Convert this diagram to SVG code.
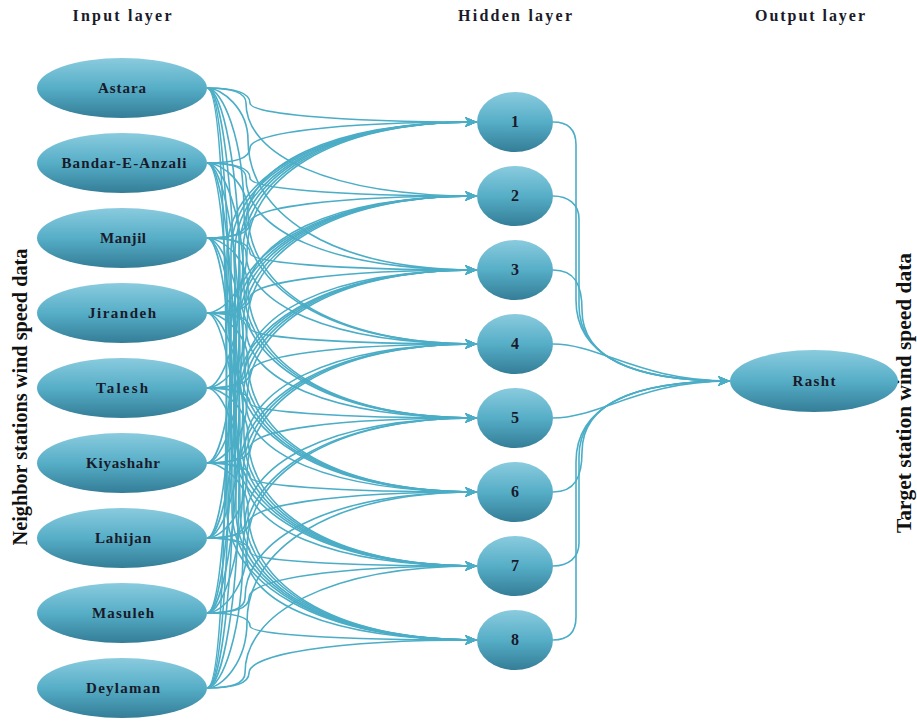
<svg xmlns="http://www.w3.org/2000/svg" width="917" height="721" viewBox="0 0 917 721">
<defs>
<linearGradient id="g" x1="0" y1="0" x2="0" y2="1">
<stop offset="0" stop-color="#8acbde"/>
<stop offset="0.5" stop-color="#56aec7"/>
<stop offset="1" stop-color="#347d97"/>
</linearGradient>
<marker id="ah" markerUnits="userSpaceOnUse" markerWidth="12" markerHeight="10" refX="12" refY="5" orient="auto">
<path d="M0,0 L12,5 L0,10 L3,5 Z" fill="#4badc6"/>
</marker>
<style>
.n{fill:url(#g);}
.t{font-family:"Liberation Serif","Times New Roman",serif;font-weight:bold;fill:#1a1a2a;text-anchor:middle;}
.nl{font-size:15px;}
.hl{font-size:16px;}
.tt{font-size:16px;}
.side{font-size:21px;fill:#111;}
#edges path{fill:none;stroke:#4badc6;stroke-width:1.6;marker-end:url(#ah);}
</style>
</defs>
<rect width="917" height="721" fill="#ffffff"/>
<text class="t tt" x="122" y="21" textLength="99" lengthAdjust="spacing">Input layer</text>
<text class="t tt" x="515" y="21" textLength="114" lengthAdjust="spacing">Hidden layer</text>
<text class="t tt" x="810" y="21" textLength="110" lengthAdjust="spacing">Output layer</text>
<text class="t side" transform="translate(27,397) rotate(-90)" textLength="297" lengthAdjust="spacingAndGlyphs">Neighbor stations wind speed data</text>
<text class="t side" transform="translate(911,393) rotate(-90)" textLength="280" lengthAdjust="spacingAndGlyphs">Target station wind speed data</text>
<g id="edges">
<path d="M207,88 q43,0 43,15 c0,10 79,19 227,19"/>
<path d="M207,88 q39,0 39,15 c0,51 81,93 231,93"/>
<path d="M207,88 C222,88 248,109 248,140 c0,72 80,130 229,130"/>
<path d="M207,88 C222,88 244,138 244,214 c0,72 82,130 233,130"/>
<path d="M207,88 C222,88 240,168 240,288 c0,72 83,130 237,130"/>
<path d="M207,88 C222,88 236,198 236,362 c0,72 84,130 241,130"/>
<path d="M207,88 C222,88 231,227 231,436 c0,72 86,130 246,130"/>
<path d="M207,88 C222,88 227,257 227,510 c0,72 88,130 250,130"/>
<path d="M207,163 q43,0 43,-15 c0,-14 79,-26 227,-26"/>
<path d="M207,163 q43,0 43,15 c0,10 79,18 227,18"/>
<path d="M207,163 q39,0 39,15 c0,51 81,92 231,92"/>
<path d="M207,163 C222,163 248,183 248,214 c0,72 80,130 229,130"/>
<path d="M207,163 C222,163 244,213 244,288 c0,72 82,130 233,130"/>
<path d="M207,163 C222,163 240,243 240,362 c0,72 83,130 237,130"/>
<path d="M207,163 C222,163 236,272 236,436 c0,72 84,130 241,130"/>
<path d="M207,163 C222,163 232,302 232,510 c0,72 86,130 245,130"/>
<path d="M207,238 q39,0 39,-15 c0,-56 81,-101 231,-101"/>
<path d="M207,238 q43,0 43,-15 c0,-15 79,-27 227,-27"/>
<path d="M207,238 q43,0 43,15 c0,9 79,17 227,17"/>
<path d="M207,238 q39,0 39,15 c0,50 81,91 231,91"/>
<path d="M207,238 C222,238 248,258 248,288 c0,72 80,130 229,130"/>
<path d="M207,238 C222,238 244,288 244,362 c0,72 82,130 233,130"/>
<path d="M207,238 C222,238 240,317 240,436 c0,72 83,130 237,130"/>
<path d="M207,238 C222,238 236,347 236,510 c0,72 84,130 241,130"/>
<path d="M207,313 C222,313 247,289 247,252 c0,-72 81,-130 230,-130"/>
<path d="M207,313 q39,0 39,-15 c0,-56 81,-102 231,-102"/>
<path d="M207,313 q43,0 43,-15 c0,-15 79,-28 227,-28"/>
<path d="M207,313 q43,0 43,15 c0,9 79,16 227,16"/>
<path d="M207,313 q39,0 39,15 c0,50 81,90 231,90"/>
<path d="M207,313 C222,313 248,333 248,362 c0,72 80,130 229,130"/>
<path d="M207,313 C222,313 244,362 244,436 c0,72 82,130 233,130"/>
<path d="M207,313 C222,313 240,392 240,510 c0,72 83,130 237,130"/>
<path d="M207,388 C222,388 243,334 243,252 c0,-72 82,-130 234,-130"/>
<path d="M207,388 C222,388 247,363 247,326 c0,-72 81,-130 230,-130"/>
<path d="M207,388 q38,0 38,-15 c0,-57 81,-103 232,-103"/>
<path d="M207,388 q43,0 43,-15 c0,-16 79,-29 227,-29"/>
<path d="M207,388 q43,0 43,15 c0,8 79,15 227,15"/>
<path d="M207,388 q39,0 39,15 c0,49 81,89 231,89"/>
<path d="M207,388 C222,388 248,407 248,436 c0,72 80,130 229,130"/>
<path d="M207,388 C222,388 244,437 244,510 c0,72 82,130 233,130"/>
<path d="M207,463 C222,463 239,379 239,252 c0,-72 83,-130 238,-130"/>
<path d="M207,463 C222,463 243,408 243,326 c0,-72 82,-130 234,-130"/>
<path d="M207,463 C222,463 247,438 247,400 c0,-72 81,-130 230,-130"/>
<path d="M207,463 q38,0 38,-15 c0,-57 81,-104 232,-104"/>
<path d="M207,463 q43,0 43,-15 c0,-17 79,-30 227,-30"/>
<path d="M207,463 q43,0 43,14 c0,8 79,15 227,15"/>
<path d="M207,463 q39,0 39,15 c0,48 81,88 231,88"/>
<path d="M207,463 C222,463 248,482 248,510 c0,72 80,130 229,130"/>
<path d="M207,538 C222,538 235,424 235,252 c0,-72 85,-130 242,-130"/>
<path d="M207,538 C222,538 239,453 239,326 c0,-72 83,-130 238,-130"/>
<path d="M207,538 C222,538 243,483 243,400 c0,-72 82,-130 234,-130"/>
<path d="M207,538 C222,538 247,512 247,474 c0,-72 81,-130 230,-130"/>
<path d="M207,538 q38,0 38,-15 c0,-58 81,-105 232,-105"/>
<path d="M207,538 q42,0 42,-15 c0,-17 80,-31 228,-31"/>
<path d="M207,538 q43,0 43,14 c0,8 79,14 227,14"/>
<path d="M207,538 q39,0 39,15 c0,48 81,87 231,87"/>
<path d="M207,613 C222,613 231,469 231,252 c0,-72 86,-130 246,-130"/>
<path d="M207,613 C222,613 235,498 235,326 c0,-72 85,-130 242,-130"/>
<path d="M207,613 C222,613 239,528 239,400 c0,-72 83,-130 238,-130"/>
<path d="M207,613 C222,613 243,557 243,474 c0,-72 82,-130 234,-130"/>
<path d="M207,613 C222,613 247,587 247,548 c0,-72 81,-130 230,-130"/>
<path d="M207,613 q38,0 38,-15 c0,-58 81,-106 232,-106"/>
<path d="M207,613 q42,0 42,-15 c0,-18 80,-32 228,-32"/>
<path d="M207,613 q43,0 43,13 c0,8 79,14 227,14"/>
<path d="M207,688 C222,688 227,514 227,252 c0,-72 88,-130 250,-130"/>
<path d="M207,688 C222,688 231,543 231,326 c0,-72 86,-130 246,-130"/>
<path d="M207,688 C222,688 235,573 235,400 c0,-72 85,-130 242,-130"/>
<path d="M207,688 C222,688 239,602 239,474 c0,-72 83,-130 238,-130"/>
<path d="M207,688 C222,688 243,632 243,548 c0,-72 82,-130 234,-130"/>
<path d="M207,688 C222,688 247,662 247,622 c0,-72 81,-130 230,-130"/>
<path d="M207,688 q38,0 38,-15 c0,-59 81,-107 232,-107"/>
<path d="M207,688 q42,0 42,-15 c0,-18 80,-33 228,-33"/>
<path d="M553,122 C568,122 576,130 576,145 L576,300 C576,355 630,381 730,381"/>
<path d="M553,196 C568,196 579,204 579,219 L579,305 C579,357 632,381 730,381"/>
<path d="M553,270 C575,270 582,285 582,310 C582,358 634,381 730,381"/>
<path d="M553,344 C600,344 640,381 730,381"/>
<path d="M553,418 C600,418 640,381 730,381"/>
<path d="M553,492 C575,492 582,477 582,452 C582,404 634,381 730,381"/>
<path d="M553,566 C568,566 579,558 579,543 L579,457 C579,405 632,381 730,381"/>
<path d="M553,640 C568,640 576,632 576,617 L576,462 C576,407 630,381 730,381"/>
</g>
<g id="in-astara"><ellipse class="n" cx="122" cy="88" rx="85" ry="30"/><text class="t nl" x="122" y="93" textLength="48" lengthAdjust="spacing">Astara</text></g>
<g id="in-bandar"><ellipse class="n" cx="122" cy="163" rx="85" ry="30"/><text class="t nl" x="124" y="168" textLength="125" lengthAdjust="spacing">Bandar-E-Anzali</text></g>
<g id="in-manjil"><ellipse class="n" cx="122" cy="238" rx="85" ry="30"/><text class="t nl" x="123" y="243" textLength="46" lengthAdjust="spacing">Manjil</text></g>
<g id="in-jirandeh"><ellipse class="n" cx="122" cy="313" rx="85" ry="30"/><text class="t nl" x="122" y="318" textLength="68" lengthAdjust="spacing">Jirandeh</text></g>
<g id="in-talesh"><ellipse class="n" cx="122" cy="388" rx="85" ry="30"/><text class="t nl" x="122" y="393" textLength="52" lengthAdjust="spacing">Talesh</text></g>
<g id="in-kiyashahr"><ellipse class="n" cx="122" cy="463" rx="85" ry="30"/><text class="t nl" x="123" y="468" textLength="74" lengthAdjust="spacing">Kiyashahr</text></g>
<g id="in-lahijan"><ellipse class="n" cx="122" cy="538" rx="85" ry="30"/><text class="t nl" x="123" y="543" textLength="56" lengthAdjust="spacing">Lahijan</text></g>
<g id="in-masuleh"><ellipse class="n" cx="122" cy="613" rx="85" ry="30"/><text class="t nl" x="123" y="618" textLength="62" lengthAdjust="spacing">Masuleh</text></g>
<g id="in-deylaman"><ellipse class="n" cx="122" cy="688" rx="85" ry="30"/><text class="t nl" x="123" y="693" textLength="74" lengthAdjust="spacing">Deylaman</text></g>
<g id="h1"><ellipse class="n" cx="515" cy="122" rx="38" ry="30"/><text class="t hl" x="515" y="127">1</text></g>
<g id="h2"><ellipse class="n" cx="515" cy="196" rx="38" ry="30"/><text class="t hl" x="515" y="201">2</text></g>
<g id="h3"><ellipse class="n" cx="515" cy="270" rx="38" ry="30"/><text class="t hl" x="515" y="275">3</text></g>
<g id="h4"><ellipse class="n" cx="515" cy="344" rx="38" ry="30"/><text class="t hl" x="515" y="349">4</text></g>
<g id="h5"><ellipse class="n" cx="515" cy="418" rx="38" ry="30"/><text class="t hl" x="515" y="423">5</text></g>
<g id="h6"><ellipse class="n" cx="515" cy="492" rx="38" ry="30"/><text class="t hl" x="515" y="497">6</text></g>
<g id="h7"><ellipse class="n" cx="515" cy="566" rx="38" ry="30"/><text class="t hl" x="515" y="571">7</text></g>
<g id="h8"><ellipse class="n" cx="515" cy="640" rx="38" ry="30"/><text class="t hl" x="515" y="645">8</text></g>
<g id="out-rasht"><ellipse class="n" cx="814" cy="381" rx="84" ry="31"/><text class="t nl" x="814" y="386" textLength="43" lengthAdjust="spacing">Rasht</text></g>
</svg>
